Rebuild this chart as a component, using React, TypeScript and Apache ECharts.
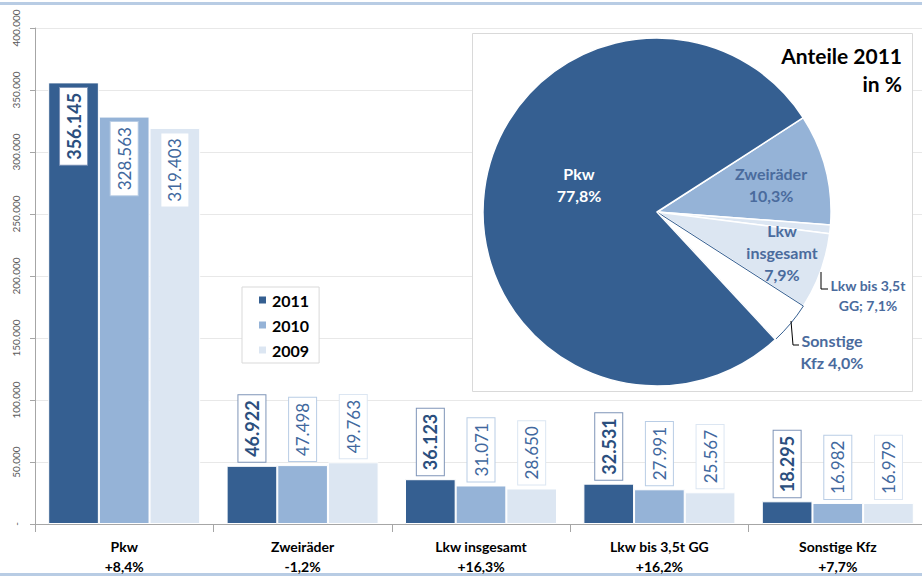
import React, { useEffect, useRef } from "react";
import * as echarts from "echarts";

const categories = ["Pkw", "Zweiräder", "Lkw insgesamt", "Lkw bis 3,5t GG", "Sonstige Kfz"];
const changes = ["+8,4%", "-1,2%", "+16,3%", "+16,2%", "+7,7%"];
const years = ["2011", "2010", "2009"];
const v2011 = [356145, 46922, 36123, 32531, 18295];
const v2010 = [328563, 47498, 31071, 27991, 16982];
const v2009 = [319403, 49763, 28650, 25567, 16979];

const yTicks = { min: 0, max: 400000, interval: 50000 };

// pie: shares 2011 in %
const pieNames = ["Zweiräder", "Lkw insgesamt", "Lkw bis 3,5t GG", "Sonstige Kfz", "Pkw"];
const pieShares = [10.3, 7.9, 7.1, 4.0, 77.8];
const pieLabels = ["Zweiräder\n10,3%", "Lkw\ninsgesamt\n7,9%", "Lkw bis 3,5t\nGG; 7,1%", "Sonstige\nKfz 4,0%", "Pkw\n77,8%"];

const FONT = "Lato, 'Open Sans', sans-serif";
const C2011 = "#355F91";
const C2010 = "#95B3D7";
const C2009 = "#DCE6F2";

const fmt = (v: number) => {
  if (v === 0) return "-";
  return String(Math.round(v)).replace(/\B(?=(\d{3})+(?!\d))/g, ".");
};

const pieLabelPos: [number, number][] = [
  [771, 184],
  [782, 252],
  [868, 295],
  [832, 351],
  [579, 184],
];

function barSeries(name: string, values: number[], color: string, bold: boolean, border: string, textColor: string) {
  return {
    name,
    type: "bar",
    barGap: "0%",
    barCategoryGap: "14.8%",
    itemStyle: { color, borderColor: "#ffffff", borderWidth: 1 },
    data: values.map((v, i) => ({
      value: v,
      label:
        i === 0
          ? { position: "insideTop", align: "right", distance: 5.5 }
          : { position: "top", align: "left", distance: 4 },
    })),
    label: {
      show: true,
      rotate: 90,
      verticalAlign: "middle",
      formatter: (p: any) => fmt(p.value),
      fontFamily: FONT,
      fontSize: bold ? 18 : 17,
      fontWeight: bold ? "bold" : "normal",
      color: textColor,
      backgroundColor: "#ffffff",
      borderColor: border,
      borderWidth: 1,
      lineHeight: 21,
      padding: [3, 5, 3, 5],
    },
  };
}

export default function App() {
  const ref = useRef<HTMLDivElement>(null);
  useEffect(() => {
    document.body.style.margin = "0";
    const chart = echarts.init(ref.current!, null, { renderer: "svg" });
    const pieColors = [C2010, C2009, C2009, "#ffffff", C2011];
    const pieTextColors = ["#4A6B9D", "#4A6B9D", "#4A6B9D", "#4A6B9D", "#ffffff"];
    const pieFontSizes = [16, 16, 14, 16, 16];
    const pieValues = pieShares.map((s, i) => (i === 1 ? +(s - pieShares[2]).toFixed(1) : s));

    chart.setOption({
      animation: false,
      backgroundColor: "#ffffff",
      grid: { left: 35, top: 28, right: -5, bottom: 53, outerBoundsMode: "none", containLabel: false },
      legend: {
        data: years,
        orient: "vertical",
        left: 242,
        top: 287,
        width: 76,
        padding: [5, 10, 5, 15],
        itemGap: 9,
        itemWidth: 9,
        itemHeight: 9,
        icon: "rect",
        borderColor: "#D9D9D9",
        borderWidth: 1,
        backgroundColor: "#ffffff",
        textStyle: { fontFamily: FONT, fontSize: 16, fontWeight: "bold", color: "#000000" },
      },
      xAxis: {
        type: "category",
        data: categories,
        axisLine: { lineStyle: { color: "#A6A6A6" } },
        axisTick: { show: true, length: 8, lineStyle: { color: "#A6A6A6" } },
        axisLabel: {
          margin: 12,
          fontFamily: FONT,
          fontSize: 14,
          fontWeight: "bold",
          color: "#000000",
          lineHeight: 20,
          formatter: (v: string, i: number) => v + "\n" + changes[i],
        },
      },
      yAxis: {
        type: "value",
        min: yTicks.min,
        max: yTicks.max,
        interval: yTicks.interval,
        axisLine: { show: true, lineStyle: { color: "#A6A6A6" } },
        axisTick: { show: true, length: 5, lineStyle: { color: "#A6A6A6" } },
        splitLine: { lineStyle: { color: "#E8E8E8" } },
        axisLabel: {
          rotate: 90,
          margin: 14,
          fontFamily: FONT,
          fontSize: 10,
          color: "#595959",
          formatter: (v: number) => fmt(v),
        },
      },
      series: [
        barSeries(years[0], v2011, C2011, true, "#7F95B8", "#2B4F7E"),
        barSeries(years[1], v2010, C2010, false, "#B9CDE5", "#41689E"),
        barSeries(years[2], v2009, C2009, false, "#DCE6F2", "#41689E"),
        {
          type: "pie",
          z: 5,
          center: [657, 212],
          radius: 174,
          startAngle: 32.8,
          clockwise: true,
          silent: true,
          labelLine: { show: false },
          data: pieNames.map((n, i) => ({
            name: n,
            value: pieValues[i],
            itemStyle:
              i === 3
                ? { color: "#ffffff", borderColor: C2011, borderWidth: 1 }
                : { color: pieColors[i], borderColor: "#ffffff", borderWidth: 1.5 },
            label: {
              show: true,
              position: "inside",
              formatter: pieLabels[i],
              color: pieTextColors[i],
              fontFamily: FONT,
              fontSize: pieFontSizes[i],
              fontWeight: "bold",
              lineHeight: pieFontSizes[i] + 6,
              align: "center",
            },
          })),
          labelLayout: (p: any) => {
            const pos = pieLabelPos[p.dataIndex];
            return { x: pos[0], y: pos[1], align: "center", verticalAlign: "middle" };
          },
        },
      ],
      graphic: [
        { type: "rect", z: 0, shape: { x: 0, y: 2, width: 922, height: 3 }, style: { fill: "#B8CCE4" } },
        { type: "rect", z: 0, shape: { x: 0, y: 573, width: 922, height: 3 }, style: { fill: "#B8CCE4" } },
        {
          type: "rect",
          z: 3,
          shape: { x: 472.5, y: 33.5, width: 440, height: 358 },
          style: { fill: "#ffffff", stroke: "#D9D9D9", lineWidth: 1 },
        },
        {
          type: "text",
          z: 10,
          x: 902,
          y: 41,
          style: {
            text: "Anteile 2011\nin %",
            fill: "#000000",
            font: "bold 21px " + FONT,
            lineHeight: 28,
            align: "right",
            verticalAlign: "top",
          },
        },
        {
          type: "polyline",
          z: 10,
          shape: { points: [[821, 272], [821, 289], [828, 289]] },
          style: { stroke: "#000000", lineWidth: 1, fill: "none" },
        },
        {
          type: "polyline",
          z: 10,
          shape: { points: [[791, 321], [793, 345], [799, 345]] },
          style: { stroke: "#000000", lineWidth: 1, fill: "none" },
        },
      ],
    });
    return () => chart.dispose();
  }, []);
  return <div ref={ref} style={{ width: 922, height: 577 }} />;
}
